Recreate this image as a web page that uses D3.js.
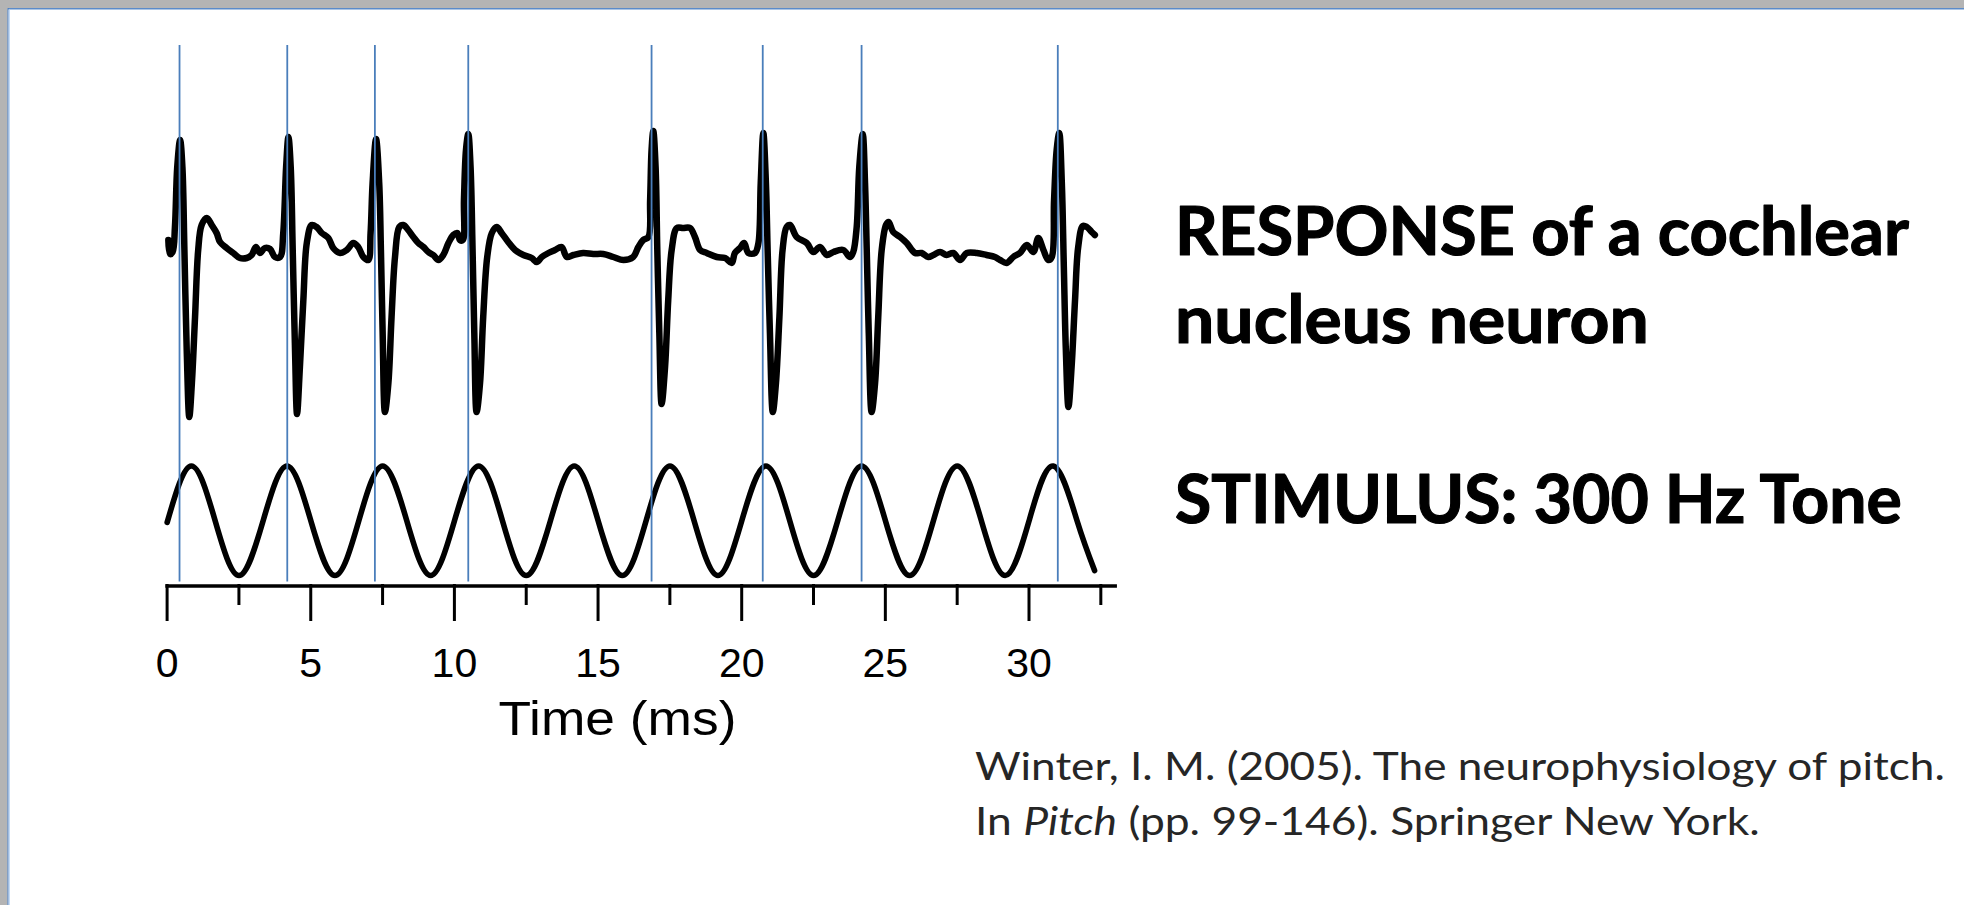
<!DOCTYPE html>
<html><head><meta charset="utf-8">
<script src="https://cdn.jsdelivr.net/npm/d3@7"></script>
<style>html,body{margin:0;padding:0;background:#fff;overflow:hidden}</style>
</head><body><svg id="c" width="1964" height="905"></svg>
<script>
// ---- data (time in ms, response in arbitrary units) ----
const responseTrace = [
[0.06,1.0],[0.12,-0.4],[0.21,-0.2],[0.29,2.3],[0.37,8.3],[0.47,11.0],[0.55,8.3],[0.62,0],[0.70,-10.0],[0.79,-16.7],[0.88,-13.3],[0.99,-6.7],[1.10,0],[1.22,2.5],[1.40,3.2],[1.57,2.5],[1.74,1.7],[1.86,0.8],[2.09,0.2],[2.32,-0.3],[2.55,-0.8],[2.79,-0.8],[2.96,-0.5],[3.11,0.3],[3.25,-0.3],[3.42,0.2],[3.60,0.1],[3.77,-0.7],[3.95,-0.7],
[4.06,1.7],[4.16,8.3],[4.24,11.3],[4.32,8.3],[4.39,0],[4.47,-10],[4.54,-16.4],[4.64,-11.7],[4.76,-5.0],[4.88,0.7],[5.05,2.5],[5.22,2.3],[5.40,1.7],[5.63,1.2],[5.80,0.2],[6.04,-0.3],[6.27,0],[6.50,0.7],[6.67,0.3],[6.85,-0.7],[7.02,-1.0],
[7.10,1.7],[7.17,6.7],[7.29,11.1],[7.40,6.7],[7.46,0],[7.52,-8.3],[7.60,-16.2],[7.72,-13.3],[7.83,-6.7],[7.95,-0.7],[8.10,2.3],[8.24,2.5],[8.41,2.0],[8.59,1.3],[8.76,0.7],[8.94,0.3],[9.11,-0.2],[9.28,-0.5],[9.46,-1.0],[9.63,-0.5],[9.81,0.7],[9.98,1.5],[10.12,1.7],[10.21,1.0],[10.31,1.0],
[10.35,5.0],[10.42,10.0],[10.50,11.6],[10.58,8.3],[10.65,0],[10.71,-8.3],[10.79,-16.2],[10.91,-13.3],[11.02,-6.7],[11.16,-0.7],[11.32,1.7],[11.49,2.3],[11.66,1.7],[11.89,0.8],[12.13,0],[12.42,-0.5],[12.71,-0.8],[12.88,-1.2],[13.06,-0.7],[13.29,-0.3],[13.52,0],[13.75,0.3],[13.93,-0.7],[14.16,-0.5],[14.50,-0.3],[14.85,-0.4],[15.20,-0.4],[15.55,-0.7],[15.90,-1.0],[16.24,-0.7],[16.42,0.3],[16.59,1.0],[16.77,1.3],
[16.83,5.0],[16.88,10.0],[16.94,11.9],[17.02,8.3],[17.08,0],[17.15,-8.3],[17.23,-15.4],[17.35,-11.7],[17.46,-5.0],[17.58,0],[17.76,2.2],[17.98,2.2],[18.22,2.2],[18.39,1.3],[18.57,0],[18.80,-0.3],[19.15,-0.7],[19.44,-0.8],[19.67,-1.3],[19.78,-0.3],[19.96,0.2],[20.10,0.7],[20.25,-0.3],[20.48,-0.3],[20.60,0.7],
[20.68,6.7],[20.77,11.7],[20.86,6.7],[20.92,0],[21.00,-8.3],[21.10,-16.2],[21.21,-13.3],[21.33,-6.7],[21.44,0],[21.58,2.3],[21.70,2.5],[21.93,1.3],[22.28,0.7],[22.51,-0.2],[22.74,0.3],[22.98,-0.5],[23.21,-0.2],[23.55,0],[23.79,-0.7],[23.90,-0.2],
[24.02,2.3],[24.11,8.3],[24.23,11.6],[24.31,6.7],[24.37,0],[24.44,-8.3],[24.54,-16.2],[24.66,-13.3],[24.77,-6.7],[24.89,0],[25.04,2.5],[25.13,2.8],[25.29,1.8],[25.53,1.3],[25.76,0.7],[26.05,-0.3],[26.28,-0.3],[26.51,-0.7],[26.69,-0.5],[26.92,-0.2],[27.15,-0.5],[27.38,-0.3],[27.62,-1.0],[27.85,-0.3],[28.20,-0.3],[28.54,-0.5],[28.83,-0.7],[29.01,-1.0],[29.24,-1.3],[29.47,-0.7],[29.70,-0.3],[29.94,0.5],[30.17,-0.2],[30.34,1.2],[30.52,0],[30.69,-1.0],[30.81,-0.7],
[30.89,5.0],[30.98,10.0],[31.07,11.7],[31.16,6.7],[31.23,-1.7],[31.30,-10],[31.39,-15.7],[31.50,-11.7],[31.62,-5.0],[31.73,0.3],[31.89,2.4],[32.03,2.3],[32.20,1.8],[32.31,1.5]
];
// 300 Hz tone: extremes and zero crossings
const stimulusTrace = [
[0.02,-0.03],[0.86,1],[1.69,0],[2.52,-1],[3.36,0],[4.19,1],[5.02,0],[5.86,-1],[6.69,0],[7.52,1],[8.36,0],[9.19,-1],[10.02,0],[10.86,1],[11.69,0],[12.52,-1],[13.36,0],[14.19,1],[15.02,0],[15.86,-1],[16.69,0],[17.52,1],[18.36,0],[19.19,-1],[20.02,0],[20.86,1],[21.69,0],[22.52,-1],[23.36,0],[24.19,1],[25.02,0],[25.86,-1],[26.69,0],[27.52,1],[28.36,0],[29.19,-1],[30.02,0],[30.86,1],[31.69,0],[32.30,-0.91]
];
const spikeTimes = [0.45, 4.20, 7.25, 10.50, 16.88, 20.75, 24.19, 31.02];
const majorTicks = [0, 5, 10, 15, 20, 25, 30];
const minorTicks = [2.5, 7.5, 12.5, 17.5, 22.5, 27.5, 32.5];
const xLabel = "Time (ms)";
const titleLines = ["RESPONSE of a cochlear", "nucleus neuron", "STIMULUS: 300 Hz Tone"];
const citationLines = [
  [["Winter, I. M. (2005). The neurophysiology of pitch.", false]],
  [["In ", false], ["Pitch", true], [" (pp. 99-146). Springer New York.", false]]
];

// ---- drawing ----
const svg = d3.select("#c");
svg.append("rect").attr("width", 1964).attr("height", 905).attr("fill", "#fff");
// slide frame
svg.append("rect").attr("x", 0).attr("y", 0).attr("width", 1964).attr("height", 8).attr("fill", "#b4b4b4");
svg.append("rect").attr("x", 0).attr("y", 0).attr("width", 7.5).attr("height", 905).attr("fill", "#b4b4b4");
svg.append("line").attr("x1", 8).attr("x2", 1964).attr("y1", 8.8).attr("y2", 8.8).attr("stroke", "#5b8bc9").attr("stroke-width", 1.4);
svg.append("line").attr("x1", 8).attr("x2", 8).attr("y1", 8).attr("y2", 905).attr("stroke", "#4a78b5").attr("stroke-width", 1.2);
svg.append("line").attr("x1", 9.2).attr("x2", 9.2).attr("y1", 9.5).attr("y2", 905).attr("stroke", "#b7d2f2").attr("stroke-width", 1.2);

const x = d3.scaleLinear().domain([0, 33]).range([166.6, 166.6 + 33 * 28.73]);
const yR = d3.scaleLinear().domain([-20, 15]).range([450, 100]);
const yS = d3.scaleLinear().domain([-1, 1]).range([575.5, 466]);
const axisY = 585.5;

// traces
svg.append("path").datum(responseTrace)
  .attr("d", d3.line().x(d => x(d[0])).y(d => yR(d[1])).curve(d3.curveCatmullRom.alpha(0.5)))
  .attr("fill", "none").attr("stroke", "#000").attr("stroke-width", 6.5)
  .attr("stroke-linejoin", "round").attr("stroke-linecap", "round");
svg.append("path").datum(stimulusTrace)
  .attr("d", d3.line().x(d => x(d[0])).y(d => yS(d[1])).curve(d3.curveNatural))
  .attr("fill", "none").attr("stroke", "#000").attr("stroke-width", 5.6)
  .attr("stroke-linecap", "round");

// spike markers
svg.append("g").selectAll("line").data(spikeTimes).join("line")
  .attr("x1", d => x(d)).attr("x2", d => x(d))
  .attr("y1", 45).attr("y2", axisY - 4)
  .attr("stroke", "#4a7ebb").attr("stroke-width", 1.8);

// axis
const gMinor = svg.append("g").attr("transform", `translate(0,${axisY})`)
  .call(d3.axisBottom(x).tickValues(minorTicks).tickSize(18).tickSizeOuter(0).tickFormat(""));
gMinor.select(".domain").remove();
const gMajor = svg.append("g").attr("transform", `translate(0,${axisY})`)
  .call(d3.axisBottom(x).tickValues(majorTicks).tickSize(34).tickSizeOuter(0).tickFormat(d3.format("d")));
[gMinor, gMajor].forEach(g => {
  g.selectAll(".tick line").attr("stroke", "#000").attr("stroke-width", 3).attr("stroke-linecap", "square");
});
gMajor.select(".domain").attr("stroke", "#000").attr("stroke-width", 3.5).attr("stroke-linecap", "square");
gMajor.selectAll(".tick text")
  .attr("y", 91).attr("dy", 0)
  .attr("font-family", "'Liberation Sans', Arial, sans-serif").attr("font-size", 41).attr("fill", "#000");

function fitted(xPos, baseline, targetW, anchor, build) {
  const g = svg.append("g");
  const t = g.append("text").attr("x", 0).attr("y", 0);
  build(t);
  const w = t.node().getComputedTextLength();
  const sx = targetW / w;
  const x0 = anchor === "middle" ? xPos - targetW / 2 : xPos;
  g.attr("transform", `translate(${x0},${baseline}) scale(${sx},1)`);
  return g;
}

fitted(617.5, 735, 238, "middle", t => t.text(xLabel)
  .attr("font-family", "'Liberation Sans', Arial, sans-serif").attr("font-size", 49).attr("fill", "#000"));

const titleBase = [255, 343.3, 523.3];
const titleW = [734, 474, 727];
titleLines.forEach((s, i) => {
  fitted(1175, titleBase[i], titleW[i], "start", t => t.text(s)
    .attr("font-family", "Lato, 'Noto Sans', sans-serif").attr("font-weight", 700)
    .attr("font-size", 67).attr("fill", "#000")
    .attr("stroke", "#000").attr("stroke-width", 1.2).attr("stroke-linejoin", "round"));
});

const citeBase = [780, 835];
const citeW = [970, 785];
citationLines.forEach((parts, i) => {
  fitted(975, citeBase[i], citeW[i], "start", t => {
    t.attr("font-family", "Lato, 'Noto Sans', sans-serif").attr("font-size", 39).attr("fill", "#262626");
    parts.forEach(p => t.append("tspan").text(p[0]).attr("font-style", p[1] ? "italic" : "normal"));
  });
});
</script>
</body></html>
